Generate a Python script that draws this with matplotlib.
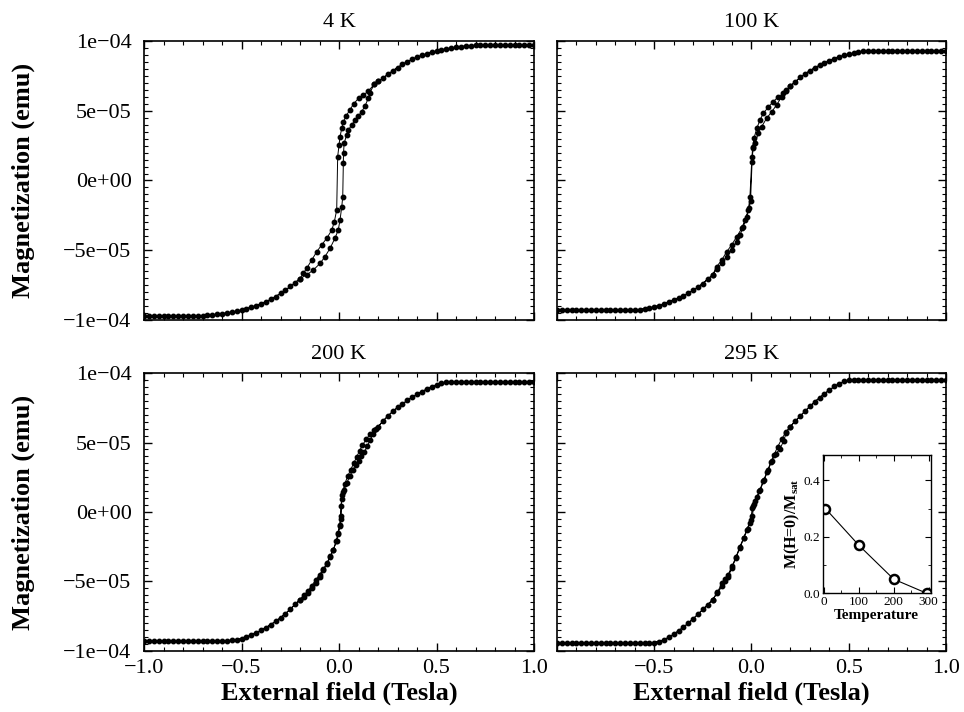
import numpy as np
import matplotlib
matplotlib.use("Agg")
import matplotlib.pyplot as plt
from matplotlib.ticker import MultipleLocator, FuncFormatter

plt.rcParams['font.family'] = ['Liberation Serif', 'DejaVu Serif']
plt.rcParams['mathtext.fontset'] = 'custom'
plt.rcParams['mathtext.rm'] = 'Liberation Serif'
plt.rcParams['mathtext.bf'] = 'Liberation Serif:bold'
plt.rcParams['mathtext.it'] = 'Liberation Serif:italic'

# outer field grid (T), shared; descending branch uses even points, ascending the odd ones
out_h = [0.2, 0.225, 0.25, 0.275, 0.3, 0.325, 0.35, 0.375, 0.4, 0.425, 0.45,
         0.475, 0.5, 0.525, 0.55, 0.575, 0.6, 0.625, 0.65, 0.675, 0.7, 0.725,
         0.75, 0.775, 0.8, 0.825, 0.85, 0.875, 0.9, 0.925, 0.95, 0.975, 1.0]

# magnetization in units of 1e-4 emu
# ---- 4 K ----
pos_4k = [0.710, 0.733, 0.760, 0.787, 0.810, 0.832, 0.853, 0.870, 0.884, 0.897,
          0.909, 0.920, 0.929, 0.937, 0.944, 0.950, 0.955, 0.960, 0.964, 0.967,
          0.970, 0.971] + [0.972] * 11
neg_4k = [-0.703, -0.733, -0.760, -0.787, -0.810, -0.832, -0.853, -0.870, -0.884,
          -0.897, -0.909, -0.920, -0.929, -0.937, -0.944, -0.950, -0.955, -0.960,
          -0.964, -0.967, -0.970, -0.971] + [-0.972] * 11
hdn_4k = [0.18, 0.15, 0.125, 0.10, 0.075, 0.055, 0.036, 0.022, 0.014, 0.005, 0.0,
          -0.007, -0.012, -0.024, -0.037, -0.063, -0.089, -0.114, -0.14, -0.166, -0.183]
mdn_4k = [0.69, 0.64, 0.613, 0.589, 0.55, 0.505, 0.462, 0.422, 0.374, 0.314, 0.254,
          0.171, -0.211, -0.295, -0.355, -0.414, -0.462, -0.51, -0.57, -0.63, -0.665]
hup_4k = [-0.2, -0.166, -0.132, -0.097, -0.072, -0.046, -0.021, -0.004, 0.005, 0.014,
          0.019, 0.022, 0.023, 0.026, 0.039, 0.048, 0.065, 0.082, 0.099, 0.116, 0.133,
          0.15, 0.159, 0.18, 0.2]
mup_4k = [-0.703, -0.677, -0.642, -0.594, -0.546, -0.486, -0.414, -0.355, -0.283,
          -0.188, -0.116, 0.125, 0.195, 0.267, 0.326, 0.362, 0.398, 0.434, 0.462,
          0.493, 0.534, 0.589, 0.63, 0.69, 0.71]

# ---- 100 K ----
pos_100k = [0.677, 0.707, 0.740, 0.765, 0.787, 0.808, 0.827, 0.843, 0.857, 0.872,
            0.886, 0.897, 0.906, 0.913, 0.920, 0.925, 0.929] + [0.931] * 16
neg_100k = [-0.677, -0.707, -0.740, -0.765, -0.787, -0.808, -0.827, -0.843, -0.857,
            -0.872, -0.886, -0.897, -0.906, -0.913, -0.920, -0.925, -0.929] + [-0.931] * 16
hdn_100k = [0.18, 0.164, 0.138, 0.112, 0.086, 0.061, 0.044, 0.027, 0.013, 0.006, 0.001,
            -0.008, -0.016, -0.033, -0.05, -0.076, -0.102, -0.127, -0.153, -0.179]
mdn_100k = [0.65, 0.625, 0.60, 0.565, 0.525, 0.482, 0.434, 0.374, 0.303, 0.242, 0.135,
            -0.116, -0.211, -0.283, -0.343, -0.403, -0.462, -0.51, -0.57, -0.618]
hup_100k = [-0.2, -0.179, -0.153, -0.127, -0.102, -0.076, -0.059, -0.042, -0.025,
            -0.012, -0.005, 0.004, 0.009, 0.018, 0.035, 0.052, 0.078, 0.104, 0.129,
            0.155, 0.18, 0.2]
mup_100k = [-0.677, -0.635, -0.594, -0.546, -0.498, -0.439, -0.39, -0.331, -0.26,
            -0.2, -0.15, 0.17, 0.231, 0.267, 0.338, 0.386, 0.446, 0.493, 0.541,
            0.60, 0.645, 0.677]

# ---- 200 K ----
pos_200k = [0.615, 0.655, 0.690, 0.725, 0.752, 0.778, 0.803, 0.825, 0.846, 0.866,
            0.885, 0.902, 0.917, 0.927, 0.933] + [0.935] * 18
neg_200k = [-0.63, -0.665, -0.70, -0.732, -0.762, -0.787, -0.81, -0.832, -0.852,
            -0.87, -0.886, -0.90, -0.912, -0.92, -0.924] + [-0.925] * 18
hdn_200k = [0.18, 0.16, 0.14, 0.12, 0.105, 0.09, 0.075, 0.06, 0.045, 0.03, 0.019,
            0.013, 0.01, 0.005, -0.004, -0.012, -0.029, -0.046, -0.063, -0.08, -0.1,
            -0.12, -0.14, -0.16, -0.18]
mdn_200k = [0.59, 0.56, 0.525, 0.48, 0.44, 0.395, 0.35, 0.305, 0.26, 0.205, 0.146,
            0.09, -0.03, -0.10, -0.16, -0.21, -0.27, -0.32, -0.37, -0.41, -0.45,
            -0.49, -0.53, -0.57, -0.60]
hup_200k = [-0.2, -0.18, -0.16, -0.14, -0.12, -0.1, -0.08, -0.063, -0.046, -0.029,
            -0.015, -0.005, 0.003, 0.008, 0.01, 0.015, 0.026, 0.04, 0.056, 0.07,
            0.085, 0.1, 0.115, 0.13, 0.145, 0.16, 0.175, 0.19]
mup_200k = [-0.63, -0.61, -0.585, -0.55, -0.51, -0.465, -0.42, -0.375, -0.325, -0.27,
            -0.21, -0.15, -0.09, -0.05, 0.04, 0.12, 0.16, 0.21, 0.26, 0.30, 0.34,
            0.37, 0.40, 0.43, 0.475, 0.52, 0.56, 0.595]

# ---- 295 K ----
pos_295k = [0.615, 0.655, 0.69, 0.725, 0.76, 0.794, 0.822, 0.85, 0.878, 0.903,
            0.924, 0.94, 0.95] + [0.953] * 20
neg_295k = [-0.63, -0.67, -0.70, -0.735, -0.77, -0.80, -0.83, -0.855, -0.88, -0.902,
            -0.92, -0.933, -0.94] + [-0.942] * 20
hdn_295k = [0.175, 0.155, 0.135, 0.115, 0.1, 0.08, 0.06, 0.04, 0.02, 0.01, 0.005,
            -0.01, -0.025, -0.04, -0.06, -0.08, -0.1, -0.12, -0.135, -0.15, -0.175]
mdn_295k = [0.57, 0.525, 0.47, 0.41, 0.36, 0.29, 0.22, 0.15, 0.08, 0.04, -0.03,
            -0.08, -0.13, -0.185, -0.25, -0.325, -0.39, -0.45, -0.48, -0.51, -0.575]
hup_295k = [-0.2, -0.175, -0.15, -0.135, -0.12, -0.1, -0.08, -0.06, -0.04, -0.02,
            -0.005, 0.005, 0.015, 0.03, 0.045, 0.065, 0.085, 0.105, 0.125, 0.145,
            0.165, 0.18, 0.2]
mup_295k = [-0.63, -0.585, -0.53, -0.50, -0.465, -0.40, -0.33, -0.26, -0.19, -0.12,
            -0.06, 0.03, 0.06, 0.11, 0.16, 0.23, 0.30, 0.37, 0.42, 0.45, 0.51,
            0.575, 0.615]

# inset: remanence ratio vs temperature
inset_T = [4, 100, 200, 295]
inset_ratio = [0.30, 0.17, 0.05, 0.0]

titles = ['4 K', '100 K', '200 K', '295 K']
panels = [
    (pos_4k, neg_4k, hdn_4k, mdn_4k, hup_4k, mup_4k),
    (pos_100k, neg_100k, hdn_100k, mdn_100k, hup_100k, mup_100k),
    (pos_200k, neg_200k, hdn_200k, mdn_200k, hup_200k, mup_200k),
    (pos_295k, neg_295k, hdn_295k, mdn_295k, hup_295k, mup_295k),
]


def loop(pos, neg, hdn, mdn, hup, mup):
    oh = np.array(out_h)
    pos = np.array(pos)
    neg = np.array(neg)
    # descending: +1 -> -1
    h1 = np.concatenate([oh[::2][::-1], hdn, -oh[::2]])
    m1 = np.concatenate([pos[::2][::-1], mdn, neg[::2]])
    # ascending: -1 -> +1
    h2 = np.concatenate([-oh[1::2][::-1], hup, oh[1::2]])
    m2 = np.concatenate([neg[1::2][::-1], mup, pos[1::2]])
    return np.concatenate([h1, h2]), np.concatenate([m1, m2]) * 1e-4


def yfmt(v, pos):
    return ('%.0e' % v).replace('-', '\u2212')


fig = plt.figure(figsize=(9.64, 7.12), dpi=100)
rects = [[0.1494, 0.5506, 0.4046, 0.3918],
         [0.5778, 0.5506, 0.4035, 0.3918],
         [0.1494, 0.0857, 0.4046, 0.3904],
         [0.5778, 0.0857, 0.4035, 0.3904]]

for i, r in enumerate(rects):
    ax = fig.add_axes(r)
    h, m = loop(*panels[i])
    ax.plot(h, m, color='black', lw=0.7, marker='o', ms=3.2, mfc='black', mec='black')
    ax.set_xlim(-1.0, 1.0)
    ax.set_ylim(-1e-4, 1e-4)
    ax.set_title(titles[i], fontsize=16, pad=10)
    ax.xaxis.set_major_locator(MultipleLocator(0.5))
    ax.xaxis.set_minor_locator(MultipleLocator(0.1))
    ax.yaxis.set_major_locator(MultipleLocator(5e-5))
    ax.yaxis.set_minor_locator(MultipleLocator(5e-6))
    ax.yaxis.set_major_formatter(FuncFormatter(yfmt))
    ax.tick_params(which='both', direction='in', top=True, right=True, labelsize=16)
    ax.tick_params(axis='y', which='major', pad=9)
    ax.tick_params(axis='x', which='major', pad=6)
    ax.tick_params(which='major', length=6, width=1)
    ax.tick_params(which='minor', length=3, width=0.8)
    for s in ax.spines.values():
        s.set_linewidth(1.2)
    if i < 2:
        ax.tick_params(labelbottom=False)
    else:
        ax.set_xlabel('External field (Tesla)', fontsize=19, fontweight='bold', labelpad=2)
    if i % 2 == 1:
        ax.tick_params(labelleft=False)
    else:
        ax.set_ylabel('Magnetization (emu)', fontsize=19, fontweight='bold')
        ax.yaxis.set_label_coords(-0.28, 0.5)
    if i == 3:
        ax.set_xticks([-1.0, -0.5, 0.0, 0.5, 1.0])
        ax.set_xticklabels(['', '\u22120.5', '0.0', '0.5', '1.0'])

# inset in the 295 K panel
ins = fig.add_axes([0.8534, 0.1667, 0.112, 0.1943])
ins.plot(inset_T, inset_ratio, color='black', lw=0.8, marker='o', ms=6.5,
         mfc='white', mec='black', mew=1.8)
ins.set_xlim(-4, 306)
ins.set_ylim(0, 0.49)
ins.xaxis.set_major_locator(MultipleLocator(100))
ins.xaxis.set_minor_locator(MultipleLocator(50))
ins.yaxis.set_major_locator(MultipleLocator(0.2))
ins.yaxis.set_minor_locator(MultipleLocator(0.1))
ins.tick_params(which='both', direction='in', top=True, right=True, labelsize=9.5, pad=2)
ins.tick_params(which='major', length=4)
ins.tick_params(which='minor', length=2)
ins.yaxis.set_major_formatter(FuncFormatter(lambda v, p: '%.1f' % v))
ins.set_xlabel('Temperature', fontsize=11, fontweight='bold', labelpad=1)
ins.set_ylabel('M(H=0)/M$_{\\mathbf{sat}}$', fontsize=11.5, fontweight='bold', labelpad=1)
for s in ins.spines.values():
    s.set_linewidth(1.0)

fig.savefig('out.png', dpi=100)
